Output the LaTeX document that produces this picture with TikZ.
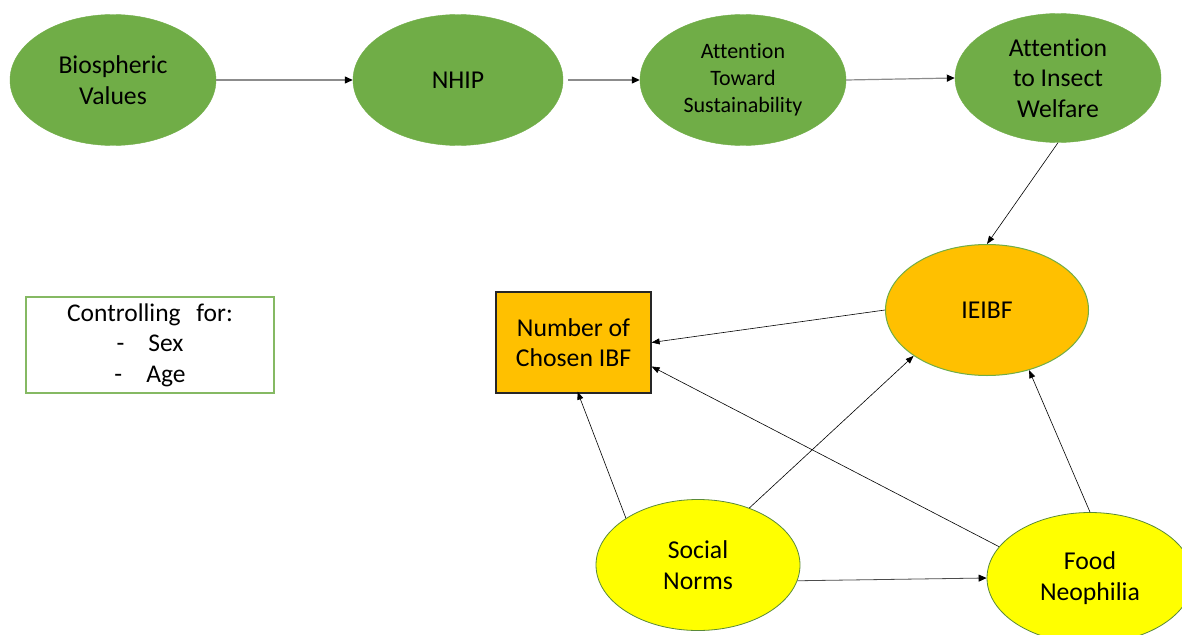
\documentclass[tikz,border=0pt]{standalone}
\usepackage{fontspec}
\setmainfont{Carlito}[Ligatures=NoCommon]
\usetikzlibrary{shapes.geometric,arrows.meta}
\definecolor{leaf}{HTML}{70AD47}
\definecolor{amber}{HTML}{FFC000}
\definecolor{lemon}{HTML}{FFFF00}
\definecolor{linegray}{HTML}{8C8C8C}
\tikzset{
  oval/.style={ellipse, inner sep=0pt, minimum width=206pt, minimum height=131pt, align=center, font=\fontsize{25.7}{30.5}\selectfont},
  greenoval/.style={oval, fill=leaf, draw=leaf},
  amberoval/.style={oval, fill=amber, draw=leaf, line width=1pt},
  yellowoval/.style={oval, fill=lemon, draw=leaf!80!black, line width=0.8pt},
  toparrow/.style={draw=linegray, line width=1.2pt, -{Triangle[length=8pt,width=7pt,color=black]}},
  link/.style={draw=black, line width=0.6pt, -{Triangle[length=8pt,width=6pt]}},
}
\begin{document}
\begin{tikzpicture}[x=1pt,y=-1pt]
\clip (0,0) rectangle (1182,634);
\useasboundingbox (0,0) rectangle (1182,634);
\fill[white] (0,0) rectangle (1182,634);

\node[greenoval] (bv) at (113,80) {Biospheric\\Values};
\node[greenoval, minimum width=210pt] (nhip) at (458,80) {NHIP};
\node[greenoval, font=\fontsize{22}{27}\selectfont] (ats) at (743,80) {Attention\\Toward\\Sustainability};
\node[greenoval, minimum height=129pt] (aiw) at (1058,78) {Attention\\to Insect\\Welfare};

\node[amberoval, minimum width=203pt] (ieibf) at (987,310) {IEIBF};
\node[draw=black!85, line width=1.2pt, fill=amber, minimum width=155pt, minimum height=101pt, inner sep=0pt, align=center, font=\fontsize{25.7}{30.5}\selectfont] (num) at (573.5,342.5) {Number of\\Chosen IBF};

\node[yellowoval, minimum width=204pt] (sn) at (698,565) {Social\\Norms};
\node[yellowoval] (fn) at (1090,578) {Food\\Neophilia};

\node[draw=leaf!85!white, line width=1.2pt, fill=white, minimum width=248pt, minimum height=96pt, inner sep=0pt, align=center, font=\fontsize{25.5}{30.5}\selectfont] (ctrl) at (150,345) {Controlling\ \ \,for:\\-\hspace{24pt}Sex\\-\hspace{24pt}Age};

\draw[toparrow] (bv.east) -- (nhip.west);
\draw[toparrow] ([xshift=5pt]nhip.east) -- (ats.west);
\draw[toparrow] (ats.east) -- (aiw.west);
\draw[link] (aiw.south) -- (ieibf.north);
\draw[link] (ieibf.west) -- (num.east);
\draw[link] (sn.147) -- ([xshift=4pt,yshift=2pt]num.south);
\draw[link] (sn.48) -- (ieibf.212);
\draw[link] (fn.161) -- ([yshift=-24pt]num.east);
\draw[link] (fn.north) -- (ieibf.305);
\draw[toparrow, draw=black!70, line width=0.8pt] (sn.-9) -- (fn.west);
\end{tikzpicture}
\end{document}
